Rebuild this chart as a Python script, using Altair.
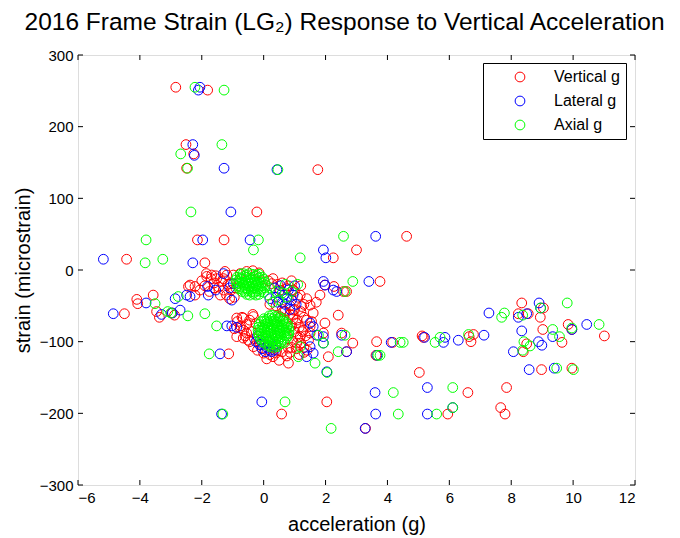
import altair as alt
import pandas as pd

# ---- strain vs. acceleration samples as (acceleration g, microstrain) pairs ----
vertical_outer = [
    (-2.84, 255), (-1.81, 251), (-2.51, 175), (-2.26, 162), (-2.49, 142), (1.75, 140),
    (-0.22, 81), (-2.14, 42), (-1.28, 42), (3.00, 28), (2.25, 17), (-4.43, 15), (-1.90, 10),
    (4.62, 47), (-4.10, -41), (-4.07, -47), (-3.57, -35), (-4.50, -61), (-3.46, -58),
    (-3.37, -66), (-2.97, -60), (-2.88, -63), (-2.22, -35), (-2.43, -23), (-2.22, -23),
    (-1.13, -117), (-2.38, -21), (-2.06, -28),
    (1.98, -21), (2.27, -23), (2.58, -30), (2.68, -30), (3.76, -16), (2.41, -63), (2.52, -88),
    (2.88, -102), (2.68, -114), (3.65, -100), (3.63, -119), (1.50, -79), (1.98, -74),
    (1.93, -88), (0.80, -130), (2.09, -121), (1.82, -35), (1.70, -45), (1.60, -60),
    (2.04, -184), (0.58, -201), (3.29, -221),
    (4.17, -101), (5.03, -143), (6.60, -171), (5.95, -201), (5.16, -94), (5.12, -92),
    (6.64, -93), (6.70, -100), (6.78, -90), (7.85, -164), (7.66, -192), (7.80, -201),
    (8.34, -46), (8.23, -61), (8.55, -61), (8.39, -114), (8.50, -103), (8.98, -139),
    (9.04, -53), (8.94, -66), (9.02, -83), (9.64, -101), (9.96, -137), (9.84, -76),
    (9.96, -83), (11.01, -92),
]
vertical_core = [
    # left of the upper cluster
    (-2.00, -15), (-1.90, -22), (-1.75, -30), (-1.60, -18), (-1.45, -24), (-1.30, -12),
    (-1.15, -20), (-1.05, -28), (-1.40, -35), (-1.25, -2), (-1.55, -8), (-1.10, -40),
    (-0.95, -38), (-1.70, -12), (-1.85, -5), (-1.84, -9), (-1.68, -7), (-1.52, -12),
    (-1.36, -16), (-1.19, -7), (-0.98, -7), (-0.76, -5), (-0.55, -2), (-0.35, -1),
    (-0.15, -4), (-1.60, -25), (-1.30, -28), (-1.20, -35), (-0.90, -25), (-1.07, -19),
    # between the two clusters
    (0.15, -15), (0.30, -12), (0.45, -20), (0.60, -18), (0.80, -22), (1.00, -30), (1.10, -38),
    (1.30, -48), (0.40, -50), (0.60, -55), (0.85, -50), (0.20, -48), (0.26, -19), (0.53, -28),
    (0.75, -26), (0.96, -28), (1.18, -35), (1.39, -40), (1.50, -49), (1.23, -51), (0.96, -56),
    (0.69, -58), (0.53, -65), (1.20, -22), (0.90, -15),
    # around the lower cluster
    (0.85, -62), (0.95, -68), (1.05, -74), (1.15, -80), (1.25, -86), (1.35, -92), (1.45, -98),
    (0.90, -78), (1.00, -86), (1.10, -94), (1.20, -102), (1.30, -108), (0.95, -100),
    (1.05, -110), (0.85, -115), (1.15, -118), (1.40, -112), (1.50, -88), (1.55, -72),
    (1.30, -66), (1.20, -58), (1.00, -55), (1.07, -102), (1.18, -93), (1.28, -84), (1.39, -70),
    (1.07, -70), (0.96, -63), (0.64, -58),
    (-0.85, -72), (-0.75, -78), (-0.65, -84), (-0.55, -76), (-0.45, -70), (-0.35, -62),
    (-0.60, -92), (-0.45, -100), (-0.30, -96), (-0.25, -75), (-0.70, -66), (-0.95, -82),
    (-0.40, -86), (-0.87, -67), (-0.66, -67), (-0.76, -81), (-0.55, -88), (-0.50, -98),
    (-0.33, -107), (-0.33, -65), (-0.87, -93), (-0.66, -95),
    (-0.20, -112), (0.00, -116), (0.20, -118), (0.40, -116), (0.60, -114), (0.75, -120),
    (0.10, -124), (0.50, -126), (-0.10, -104), (0.90, -108), (-0.06, -109), (0.42, -112),
    (0.80, -109), (0.30, -121), (1.30, -115),
]

lateral_outer = [
    (-2.06, 255), (-2.11, 251), (-2.29, 175), (-2.24, 160), (-1.28, 142), (0.43, 140),
    (-1.06, 81), (-1.97, 42), (-0.44, 42), (3.62, 47), (1.93, 28), (2.01, 17), (-5.18, 15),
    (-2.29, 10), (-3.80, -46), (-4.86, -61), (-2.86, -40), (-2.70, -56), (-2.49, -35),
    (-2.38, -37), (-1.81, -23), (-1.79, -35), (-1.19, -78), (-1.03, -78), (-0.87, -80),
    (-1.41, -117), (-1.30, -5), (-0.98, -19), (-1.03, -42), (-3.30, -62), (-2.95, -60),
    (-1.55, -28), (-1.10, -25),
    (1.72, -91), (1.93, -93), (1.50, -74), (1.60, -79), (1.39, -121), (1.50, -107),
    (1.60, -116), (1.93, -102), (2.04, -142), (1.93, -16), (1.98, -21), (2.25, -28),
    (2.36, -30), (3.40, -16), (2.52, -91), (2.68, -114), (3.66, -119), (4.12, -101),
    (-0.06, -184), (-1.36, -201), (3.28, -221), (3.60, -171), (3.62, -201),
    (5.29, -164), (5.29, -201), (6.11, -192), (5.20, -94), (5.81, -101), (5.86, -94),
    (6.29, -98), (7.12, -91), (7.28, -60), (8.23, -66), (8.50, -61), (8.34, -85), (8.07, -114),
    (8.58, -139), (8.90, -46), (8.95, -53), (8.88, -100), (8.99, -105), (9.34, -93),
    (9.39, -137), (9.96, -83), (10.44, -76),
]
lateral_core = [
    (0.35, -25), (0.50, -30), (0.65, -35), (0.80, -28), (0.45, -45), (0.70, -48), (0.90, -42),
    (1.00, -22), (0.20, -40), (0.55, -22), (0.75, -40), (0.95, -35), (0.60, -45), (0.85, -55),
    (1.05, -48), (0.40, -38),
    (-0.10, -98), (0.00, -104), (0.10, -108), (0.20, -112), (0.30, -106), (-0.05, -110),
    (0.15, -100), (-0.20, -92), (0.25, -114), (0.35, -112), (-0.15, -104), (0.05, -114),
    (0.40, -104), (-0.25, -100),
]

axial_outer = [
    (-2.22, 255), (-1.28, 251), (-1.35, 175), (-2.68, 162), (-2.46, 142), (0.46, 140),
    (-2.35, 81), (-3.80, 42), (-0.17, 42), (-0.33, 28), (2.58, 47), (1.18, 17), (-3.83, 10),
    (-3.26, 15), (-3.51, -47), (-3.10, -58), (-3.00, -60), (-2.76, -37), (-2.45, -64),
    (-1.90, -61), (-1.52, -78), (-1.76, -117),
    (1.77, -91), (1.93, -102), (1.18, -107), (1.12, -121), (1.66, -130), (2.05, -143),
    (2.63, -30), (2.88, -16), (2.63, -91), (2.41, -114), (3.69, -119), (3.76, -119),
    (4.41, -101), (4.51, -101),
    (0.69, -184), (-1.32, -201), (2.18, -221), (4.19, -171), (4.35, -201),
    (5.54, -101), (5.70, -94), (6.11, -164), (5.59, -201), (6.11, -192), (6.62, -90),
    (7.69, -66), (7.78, -60), (8.37, -63), (8.37, -112), (8.41, -100), (8.61, -106),
    (8.95, -53), (9.34, -83), (9.56, -93), (9.47, -137), (10.01, -139), (9.96, -81),
    (9.81, -46), (10.84, -76),
]
axial_upper_cluster = [
    (-0.75, -6), (-0.66, -5), (-0.55, -7), (-0.46, -5), (-0.35, -6), (-0.24, -7), (-0.15, -6),
    (-0.86, -10), (-0.75, -11), (-0.64, -9), (-0.56, -10), (-0.45, -11), (-0.34, -10),
    (-0.25, -9), (-0.14, -11), (-0.05, -10),
    (-0.90, -14), (-0.81, -15), (-0.70, -13), (-0.61, -14), (-0.50, -15), (-0.41, -14),
    (-0.30, -13), (-0.21, -15), (-0.10, -14), (0.00, -13),
    (-0.88, -18), (-0.79, -19), (-0.69, -17), (-0.58, -18), (-0.48, -19), (-0.39, -18),
    (-0.28, -17), (-0.18, -19), (-0.07, -18), (0.04, -17),
    (-0.85, -22), (-0.76, -23), (-0.65, -21), (-0.54, -22), (-0.45, -23), (-0.35, -22),
    (-0.24, -21), (-0.15, -23), (-0.04, -22), (0.05, -21),
    (-0.80, -26), (-0.70, -27), (-0.60, -25), (-0.51, -26), (-0.40, -27), (-0.30, -25),
    (-0.19, -26), (-0.09, -27), (0.03, -25),
    (-0.70, -30), (-0.61, -31), (-0.50, -29), (-0.40, -30), (-0.29, -31), (-0.20, -29),
    (-0.10, -30), (0.00, -31),
    (-0.55, -34), (-0.45, -35), (-0.34, -33), (-0.25, -35), (-0.15, -34),
    # spill toward the lower cluster
    (0.20, -25), (0.40, -30), (0.60, -32), (0.75, -38), (0.90, -30), (0.50, -42), (0.30, -45),
    (1.10, -20), (0.70, -20), (0.15, -35),
]
axial_lower_cluster = [
    (0.18, -64), (0.27, -63), (0.37, -65), (0.46, -64),
    (0.01, -68), (0.11, -69), (0.20, -67), (0.31, -68), (0.41, -69), (0.52, -67), (0.63, -68),
    (-0.08, -72), (0.02, -71), (0.13, -73), (0.22, -72), (0.33, -71), (0.42, -73), (0.53, -72),
    (0.62, -71), (0.72, -73),
    (-0.14, -76), (-0.03, -77), (0.07, -75), (0.16, -76), (0.27, -77), (0.36, -75), (0.47, -76),
    (0.58, -77), (0.67, -75), (0.78, -76),
    (-0.17, -80), (-0.06, -81), (0.04, -79), (0.13, -80), (0.24, -81), (0.34, -79), (0.44, -80),
    (0.55, -81), (0.65, -79), (0.74, -80), (0.81, -81),
    (-0.18, -84), (-0.08, -85), (0.02, -83), (0.12, -84), (0.23, -85), (0.32, -83), (0.43, -84),
    (0.52, -85), (0.63, -83), (0.72, -84), (0.82, -85),
    (-0.17, -88), (-0.07, -89), (0.04, -87), (0.14, -88), (0.25, -89), (0.35, -87), (0.45, -88),
    (0.55, -89), (0.66, -87), (0.76, -88), (0.81, -89),
    (-0.15, -92), (-0.05, -93), (0.06, -91), (0.15, -92), (0.26, -93), (0.37, -91), (0.46, -92),
    (0.57, -93), (0.67, -91), (0.78, -92),
    (-0.11, -96), (0.00, -97), (0.09, -95), (0.20, -96), (0.30, -97), (0.40, -95), (0.51, -96),
    (0.61, -97), (0.74, -95),
    (-0.05, -100), (0.05, -101), (0.16, -99), (0.26, -100), (0.36, -101), (0.47, -99),
    (0.57, -100), (0.68, -101),
    (0.07, -104), (0.17, -105), (0.28, -103), (0.38, -104), (0.48, -105), (0.57, -103),
    (0.20, -107), (0.32, -108), (0.44, -107),
]

series_names = ["Vertical g", "Lateral g", "Axial g"]
series_colors = ["#ff0000", "#0000ff", "#00ff00"]

x_ticks = [-6, -4, -2, 0, 2, 4, 6, 8, 10, 12]
y_ticks = [-300, -200, -100, 0, 100, 200, 300]

# ---- tables (plotted in series order so the axial circles sit on top) ----
groups = [
    ("Vertical g", vertical_core + vertical_outer),
    ("Lateral g", lateral_core + lateral_outer),
    ("Axial g", axial_outer + axial_upper_cluster + axial_lower_cluster),
]
rows = []
for name, pairs in groups:
    for ax, st in pairs:
        rows.append({"accel": ax, "strain": st, "series": name})
points = pd.DataFrame(rows)
points["idx"] = range(len(points))

xt = pd.DataFrame({"v": x_ticks})
yt = pd.DataFrame({"v": y_ticks})

W, H = 557, 430
FONT = "Liberation Sans"
x_scale = alt.Scale(domain=[-6, 12], nice=False, zero=False)
y_scale = alt.Scale(domain=[-300, 300], nice=False, zero=False)

scatter = alt.Chart(points).mark_point(
    shape="circle", filled=False, size=95, strokeWidth=1, opacity=1
).encode(
    x=alt.X("accel:Q", scale=x_scale,
            axis=alt.Axis(values=x_ticks, title="acceleration (g)", grid=False,
                          ticks=False, tickSize=0, domain=False, labelPadding=5,
                          labelFontSize=15, titleFontSize=20, titlePadding=9,
                          labelFont=FONT, titleFont=FONT, labelColor="black",
                          titleColor="black", titleFontWeight="normal")),
    y=alt.Y("strain:Q", scale=y_scale,
            axis=alt.Axis(values=y_ticks, title="strain (microstrain)", grid=False,
                          ticks=False, tickSize=0, domain=False, labelPadding=5,
                          labelFontSize=15, titleFontSize=20, titlePadding=6,
                          labelFont=FONT, titleFont=FONT, labelColor="black",
                          titleColor="black", titleFontWeight="normal")),
    color=alt.Color("series:N",
                    scale=alt.Scale(domain=series_names, range=series_colors),
                    legend=alt.Legend(title=None, orient="none", legendX=405, legendY=8,
                                      fillColor="white", strokeColor="black",
                                      padding=6, symbolType="circle", symbolSize=95,
                                      symbolStrokeWidth=1, symbolOffset=23,
                                      labelOffset=26, labelFontSize=16, labelFont=FONT,
                                      labelColor="black", rowPadding=8)),
    order=alt.Order("idx:Q"),
)

# inward tick marks on all four sides of the box
tick_style = dict(color="black", strokeWidth=1)
bottom_ticks = alt.Chart(xt).mark_rule(**tick_style).encode(
    x=alt.X("v:Q", scale=x_scale), y=alt.value(H), y2=alt.value(H - 5))
top_ticks = alt.Chart(xt).mark_rule(**tick_style).encode(
    x=alt.X("v:Q", scale=x_scale), y=alt.value(0), y2=alt.value(5))
left_ticks = alt.Chart(yt).mark_rule(**tick_style).encode(
    y=alt.Y("v:Q", scale=y_scale), x=alt.value(0), x2=alt.value(5))
right_ticks = alt.Chart(yt).mark_rule(**tick_style).encode(
    y=alt.Y("v:Q", scale=y_scale), x=alt.value(W), x2=alt.value(W - 5))

chart = alt.layer(
    scatter, bottom_ticks, top_ticks, left_ticks, right_ticks
).properties(
    width=W, height=H,
    autosize=alt.AutoSizeParams(type="none"),
    padding={"left": 78, "top": 55, "right": 45, "bottom": 53},
    title=alt.TitleParams(
        text="2016 Frame Strain (LG\u2082) Response to Vertical Acceleration",
        fontSize=24.5, font=FONT, fontWeight="normal", color="black",
        anchor="middle", dx=-12, offset=13),
).configure_view(
    stroke="black", strokeWidth=1
).configure(background="white")

chart.save("out.html", embed_options={"renderer": "svg", "actions": False})
